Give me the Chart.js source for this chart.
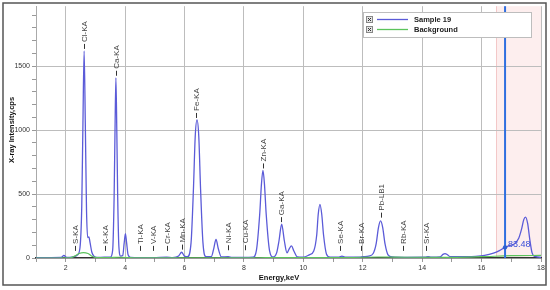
<!DOCTYPE html>
<html>
<head>
<meta charset="utf-8">
<script src="https://cdn.jsdelivr.net/npm/chart.js@4"></script>
<style>
  html, body { margin: 0; padding: 0; background: #fff; }
  #wrap { width: 550px; height: 290px; }
</style>
</head>
<body>
<div id="wrap"><canvas id="c" width="550" height="290"></canvas></div>
<script>
// --- data ---
var sampleEnergy = [1.0, 1.5, 1.85, 1.94, 2.03, 2.2, 2.3, 2.4, 2.48, 2.54, 2.58, 2.62, 2.66, 2.7, 2.74, 2.78, 2.82, 2.88, 2.95, 3.05,
  3.3, 3.5, 3.58, 3.63, 3.66, 3.69, 3.72, 3.75, 3.79, 3.85, 3.92, 3.97, 4.01, 4.05, 4.1, 4.18,
  4.5, 4.95, 5.4, 5.6, 5.8, 5.9, 6.0, 6.1, 6.22, 6.3, 6.36, 6.42, 6.48, 6.54, 6.62, 6.72,
  6.9, 6.98, 7.06, 7.14, 7.24, 7.47, 7.6, 8.0, 8.3, 8.42, 8.53, 8.59, 8.64, 8.69, 8.75, 8.86, 8.98,
  9.1, 9.18, 9.27, 9.36, 9.45, 9.52, 9.6, 9.68, 9.8, 10.0, 10.2, 10.35, 10.45, 10.5, 10.56, 10.62, 10.68, 10.78, 10.9,
  11.2, 11.3, 11.4, 11.9, 12.0, 12.2, 12.35, 12.45, 12.53, 12.6, 12.67, 12.75, 12.85, 13.0, 13.4,
  14.1, 14.2, 14.3, 14.6, 14.7, 14.77, 14.85, 14.95, 15.2, 15.5, 15.8, 16.1, 16.4, 16.6, 16.79,
  16.95, 17.1, 17.25, 17.35, 17.42, 17.48, 17.55, 17.62, 17.7, 17.8, 18.0];
var sampleCps = [2, 3, 4, 20, 4, 6, 12, 25, 80, 400, 1050, 1620, 1050, 380, 160, 165, 120, 45, 15, 5,
  6, 6, 60, 480, 1000, 1410, 1000, 480, 90, 15, 20, 120, 190, 120, 25, 5,
  3, 3, 6, 3, 15, 45, 15, 10, 120, 540, 950, 1080, 950, 540, 120, 10,
  10, 70, 145, 70, 8, 10, 4, 4, 6, 60, 340, 580, 685, 580, 340, 60, 8,
  40, 135, 265, 135, 40, 70, 95, 55, 8, 6, 25, 55, 180, 340, 420, 340, 180, 30, 6,
  6, 15, 6, 6, 10, 15, 35, 110, 240, 290, 240, 110, 25, 8, 5,
  6, 10, 6, 8, 28, 35, 25, 10, 10, 10, 12, 20, 38, 58, 83.48,
  98, 110, 155, 230, 300, 320, 270, 150, 40, 12, 5];

var bgEnergy = [1.0, 2.15, 2.3, 2.45, 2.6, 2.75, 2.9, 3.05, 3.5, 3.8, 4.1, 4.3, 8.5, 9.0, 10.0, 11.5, 12.5, 13.5, 15.0, 16.0, 17.0, 18.0];
var bgCps = [0, 2, 15, 35, 42, 35, 12, 3, 4, 6, 4, 1, 2, 3, 3, 4, 8, 6, 5, 10, 18, 20];

var peakNames = ["S-KA", "Cl-KA", "K-KA", "Ca-KA", "Ti-KA", "V-KA", "Cr-KA", "Mn-KA", "Fe-KA", "Ni-KA",
  "Cu-KA", "Zn-KA", "Ga-KA", "Se-KA", "Br-KA", "Pb-LB1", "Rb-KA", "Sr-KA"];
var peakEnergy = [2.31, 2.62, 3.31, 3.69, 4.51, 4.95, 5.41, 5.9, 6.4, 7.47,
  8.05, 8.64, 9.25, 11.24, 11.93, 12.61, 13.37, 14.12];
var peakLabelCps = [40, 1620, 40, 1410, 40, 40, 40, 50, 1080, 45,
  45, 685, 265, 40, 40, 300, 40, 40];

var legendNames = ["Sample 19", "Background"];
var cursorEnergy = 16.79;
var cursorValue = 83.48;
var regionFrom = 16.5, regionTo = 18;

var xTicks = [2, 4, 6, 8, 10, 12, 14, 16, 18];
var yTicks = [0, 500, 1000, 1500];

var BLUE = "#5b5bd8";
var GREEN = "#5cc45c";
var FONT = "'Liberation Sans', Arial, sans-serif";

function toPoints(xs, ys) {
  return xs.map(function (x, i) { return { x: x, y: ys[i] }; });
}

// --- extra drawing: shaded region, cursor, peak labels, legend, frame ---
var decor = {
  id: "decor",
  beforeDraw: function (chart) {
    var ctx = chart.ctx, a = chart.chartArea, xs = chart.scales.x;
    ctx.save();
    ctx.fillStyle = "#fff";
    ctx.fillRect(0, 0, chart.width, chart.height);
    var x0 = xs.getPixelForValue(regionFrom), x1 = xs.getPixelForValue(regionTo);
    ctx.fillStyle = "#fdeeee";
    ctx.fillRect(x0, a.top, x1 - x0, a.bottom - a.top);
    ctx.strokeStyle = "#f3c8c8";
    ctx.lineWidth = 1;
    ctx.beginPath();
    ctx.moveTo(Math.round(x0) + 0.5, a.top);
    ctx.lineTo(Math.round(x0) + 0.5, a.bottom);
    ctx.stroke();
    ctx.restore();
  },
  afterDatasetsDraw: function (chart) {
    var ctx = chart.ctx, a = chart.chartArea;
    var xs = chart.scales.x, ys = chart.scales.y;
    ctx.save();

    // peak labels
    ctx.font = "8px " + FONT;
    ctx.fillStyle = "#444";
    ctx.strokeStyle = "#333";
    ctx.lineWidth = 1;
    peakNames.forEach(function (name, i) {
      var px = Math.round(xs.getPixelForValue(peakEnergy[i])) + 0.5;
      var py = ys.getPixelForValue(peakLabelCps[i]);
      ctx.beginPath();
      ctx.moveTo(px, py - 2);
      ctx.lineTo(px, py - 7);
      ctx.stroke();
      ctx.save();
      ctx.translate(px, py - 9);
      ctx.rotate(-Math.PI / 2);
      ctx.textAlign = "left";
      ctx.textBaseline = "middle";
      ctx.fillText(name, 0, 0);
      ctx.restore();
    });

    // cursor
    var cx = xs.getPixelForValue(cursorEnergy);
    var cy = ys.getPixelForValue(cursorValue);
    ctx.strokeStyle = "#2f6fe0";
    ctx.lineWidth = 2;
    ctx.beginPath();
    ctx.moveTo(cx, a.top);
    ctx.lineTo(cx, a.bottom);
    ctx.stroke();
    ctx.fillStyle = "#2f5fd0";
    ctx.beginPath();
    ctx.arc(cx, cy, 2.2, 0, Math.PI * 2);
    ctx.fill();
    ctx.font = "9px " + FONT;
    ctx.fillStyle = "#3b4fd8";
    ctx.textAlign = "left";
    ctx.textBaseline = "middle";
    ctx.fillText(String(cursorValue), cx + 3, cy - 3);

    // legend
    var lx = 363, ly = 12, lw = 168, lh = 25;
    ctx.fillStyle = "#fff";
    ctx.fillRect(lx, ly, lw, lh);
    ctx.strokeStyle = "#bdbdbd";
    ctx.lineWidth = 1;
    ctx.strokeRect(lx + 0.5, ly + 0.5, lw, lh);
    var colors = [BLUE, GREEN];
    legendNames.forEach(function (name, i) {
      var ry = ly + 7.5 + i * 10;
      ctx.fillStyle = "#e4e4e4";
      ctx.fillRect(lx + 3, ry - 3.5, 7, 7);
      ctx.strokeStyle = "#888";
      ctx.strokeRect(lx + 3.5, ry - 3, 6, 6);
      ctx.strokeStyle = "#333";
      ctx.beginPath();
      ctx.moveTo(lx + 5, ry - 1.5); ctx.lineTo(lx + 8, ry + 1.5);
      ctx.moveTo(lx + 8, ry - 1.5); ctx.lineTo(lx + 5, ry + 1.5);
      ctx.stroke();
      ctx.strokeStyle = colors[i];
      ctx.lineWidth = 1.3;
      ctx.beginPath();
      ctx.moveTo(lx + 14, ry);
      ctx.lineTo(lx + 45, ry);
      ctx.stroke();
      ctx.lineWidth = 1;
      ctx.fillStyle = "#222";
      ctx.font = "bold 7.5px " + FONT;
      ctx.textAlign = "left";
      ctx.textBaseline = "middle";
      ctx.fillText(name, lx + 51, ry + 0.5);
    });
    ctx.restore();
  },
  afterDraw: function (chart) {
    var ctx = chart.ctx, a = chart.chartArea;
    ctx.save();
    ctx.fillStyle = "#111";
    ctx.font = "bold 7.5px " + FONT;
    ctx.textAlign = "center";
    ctx.textBaseline = "middle";
    ctx.fillText("Energy,keV", 279, 278);
    ctx.save();
    ctx.translate(12, 130);
    ctx.rotate(-Math.PI / 2);
    ctx.fillText("X-ray Intensity,cps", 0, 0);
    ctx.restore();
    ctx.strokeStyle = "#555";
    ctx.lineWidth = 1.5;
    ctx.strokeRect(3, 3, 543, 282);
    ctx.restore();
  }
};

new Chart(document.getElementById("c"), {
  type: "line",
  data: {
    datasets: [
      {
        label: legendNames[1],
        data: toPoints(bgEnergy, bgCps),
        borderColor: GREEN,
        borderWidth: 1.2,
        pointRadius: 0,
        cubicInterpolationMode: "monotone",
        fill: false,
        order: 0
      },
      {
        label: legendNames[0],
        data: toPoints(sampleEnergy, sampleCps),
        borderColor: BLUE,
        borderWidth: 1.3,
        pointRadius: 0,
        cubicInterpolationMode: "monotone",
        fill: false,
        order: 1
      }
    ]
  },
  options: {
    responsive: false,
    animation: false,
    layout: { padding: { left: 0, right: 9, top: 4, bottom: 0 } },
    plugins: { legend: { display: false }, tooltip: { enabled: false } },
    scales: {
      x: {
        type: "linear",
        min: 1,
        max: 18,
        afterFit: function (s) { s.height = 32; },
        afterBuildTicks: function (s) {
          var t = [];
          for (var v = 1; v <= 18; v++) t.push({ value: v });
          s.ticks = t;
        },
        ticks: {
          autoSkip: false,
          maxRotation: 0,
          padding: 2,
          color: "#333",
          font: { family: FONT, size: 7 },
          callback: function (v) { return xTicks.indexOf(v) >= 0 ? String(v) : ""; }
        },
        grid: {
          color: function (c) { return c.tick && xTicks.indexOf(c.tick.value) >= 0 ? "#bdbdbd" : "rgba(0,0,0,0)"; },
          tickColor: "#999",
          tickLength: 4
        },
        border: { color: "#333", width: 1.5 }
      },
      y: {
        min: 0,
        max: 1970,
        afterFit: function (s) { s.width = 36; },
        afterBuildTicks: function (s) {
          var t = [];
          for (var v = 0; v <= 1900; v += 100) t.push({ value: v });
          s.ticks = t;
        },
        ticks: {
          autoSkip: false,
          padding: 2,
          color: "#333",
          font: { family: FONT, size: 7 },
          callback: function (v) { return yTicks.indexOf(v) >= 0 ? String(v) : ""; }
        },
        grid: {
          color: function (c) { return c.tick && c.tick.value > 0 && yTicks.indexOf(c.tick.value) >= 0 ? "#bdbdbd" : "rgba(0,0,0,0)"; },
          tickColor: "#999",
          tickLength: 4
        },
        border: { color: "#aaa", width: 1 }
      }
    }
  },
  plugins: [decor]
});
</script>
</body>
</html>
